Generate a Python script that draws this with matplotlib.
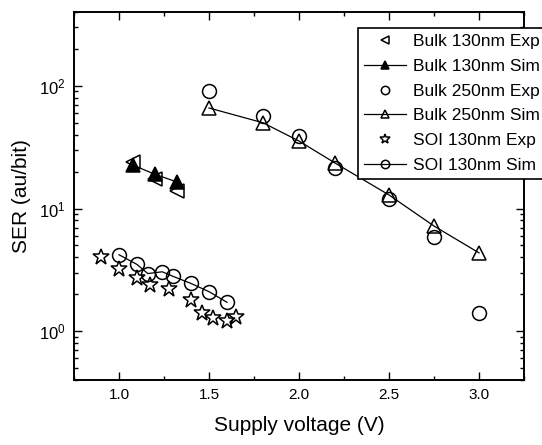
import matplotlib
matplotlib.use("Agg")
import matplotlib.pyplot as plt
from matplotlib.ticker import MultipleLocator

plt.rcParams['font.family'] = ['Liberation Sans', 'DejaVu Sans']

# Bulk 130nm
v_bulk130 = [1.08, 1.2, 1.32]
ser_bulk130_exp = [24.0, 17.5, 14.0]
ser_bulk130_sim = [22.5, 19.0, 16.5]

# Bulk 250nm
v_bulk250 = [1.5, 1.8, 2.0, 2.2, 2.5, 2.75, 3.0]
ser_bulk250_exp = [91.0, 57.0, 39.0, 21.5, 12.0, 5.9, 1.4]
ser_bulk250_sim = [66.0, 50.0, 35.5, 23.5, 12.9, 7.2, 4.35]

# SOI 130nm
v_soi_exp = [0.9, 1.0, 1.1, 1.17, 1.28, 1.4, 1.46, 1.52, 1.6, 1.65]
ser_soi_exp = [4.0, 3.2, 2.7, 2.4, 2.2, 1.78, 1.4, 1.28, 1.22, 1.3]
v_soi_sim = [1.0, 1.1, 1.16, 1.24, 1.3, 1.4, 1.5, 1.6]
ser_soi_sim = [4.2, 3.5, 2.95, 3.05, 2.8, 2.45, 2.1, 1.72]

fig = plt.figure(figsize=(5.42, 4.45), dpi=100)
ax = fig.add_axes([74 / 542, 1 - 380 / 445, 450 / 542, 368 / 445])

mk = dict(color='black', mfc='none', mew=1.1, ms=10)
ax.plot(v_bulk130, ser_bulk130_exp, '<', ls='none', label='Bulk 130nm Exp', **mk)
ax.plot(v_bulk130, ser_bulk130_sim, '^-', color='black', mfc='black', mew=1.1, ms=10,
        lw=0.9, label='Bulk 130nm Sim')
ax.plot(v_bulk250, ser_bulk250_exp, 'o', ls='none', label='Bulk 250nm Exp', **mk)
ax.plot(v_bulk250, ser_bulk250_sim, '^-', lw=0.9, label='Bulk 250nm Sim', **mk)
ax.plot(v_soi_exp, ser_soi_exp, '*', ls='none', color='black', mfc='none', mew=1.1,
        ms=12, label='SOI 130nm Exp')
ax.plot(v_soi_sim, ser_soi_sim, 'o-', lw=0.9, label='SOI 130nm Sim', **mk)

ax.set_yscale('log')
ax.set_xlim(0.75, 3.25)
ax.set_ylim(0.4, 400)
ax.xaxis.set_major_locator(MultipleLocator(0.5))
ax.xaxis.set_minor_locator(MultipleLocator(0.25))
ax.tick_params(which='both', direction='in', top=True, right=True, width=1)
ax.tick_params(which='major', length=6, labelsize=11, pad=6)
ax.tick_params(axis='y', which='major', labelsize=12)
ax.tick_params(which='minor', length=3)
for s in ax.spines.values():
    s.set_linewidth(1.4)

ax.set_xlabel('Supply voltage (V)', fontsize=15, labelpad=10)
ax.set_ylabel('SER (au/bit)', fontsize=15, labelpad=6)

# legend runs past the right edge of the figure
leg = ax.legend(loc='upper left', bbox_to_anchor=(358 / 542, 1 - 28 / 445),
                bbox_transform=fig.transFigure, borderaxespad=0,
                fontsize=12.5, numpoints=1, markerscale=0.6,
                handlelength=2.4, handletextpad=0.4, labelspacing=0.55,
                borderpad=0.35, fancybox=False, framealpha=1,
                edgecolor='black')
leg.get_frame().set_linewidth(1.2)

fig.savefig('out.png', dpi=100)
